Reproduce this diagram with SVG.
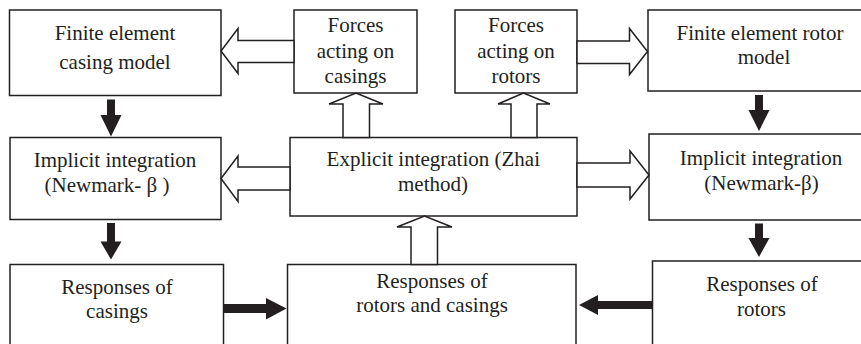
<svg xmlns="http://www.w3.org/2000/svg" width="861" height="344" viewBox="0 0 861 344">
<style>
.box{fill:#fff;stroke:#231f20;stroke-width:1.5}
.hol{fill:#fff;stroke:#231f20;stroke-width:1.5;stroke-linejoin:miter}
.sol{fill:#231f20;stroke:none}
text{font-family:'Liberation Serif','Times New Roman','DejaVu Serif',serif;font-size:21px;fill:#231f20;text-anchor:middle}
</style>
<rect width="861" height="344" fill="#fff"/>
<g font-family="'Liberation Serif', 'Times New Roman', serif">
<g id="n1"><rect class="box" x="9.5" y="10" width="211.5" height="85.5"/><text x="115" y="39.5">Finite element</text><text x="115" y="69">casing model</text></g>
<g id="n2"><rect class="box" x="294" y="10" width="123" height="83"/><text x="355.5" y="32">Forces</text><text x="355.5" y="57.5">acting on</text><text x="355.5" y="82.5">casings</text></g>
<g id="n3"><rect class="box" x="455" y="10" width="122" height="83"/><text x="516" y="32">Forces</text><text x="516" y="57.5">acting on</text><text x="516" y="82.5">rotors</text></g>
<g id="n4"><rect class="box" x="648" y="10" width="230" height="81"/><text x="760" y="39.5">Finite element rotor</text><text x="764" y="64">model</text></g>
<g id="n5"><rect class="box" x="10" y="137.5" width="211" height="82"/><text x="115" y="166.5">Implicit integration</text><text x="107" y="192" xml:space="preserve">(Newmark- β )</text></g>
<g id="n6"><rect class="box" x="290" y="137.5" width="287" height="78.5"/><text x="433.3" y="166">Explicit integration (Zhai</text><text x="433" y="191">method)</text></g>
<g id="n7"><rect class="box" x="649" y="134" width="230" height="86"/><text x="761" y="164.5">Implicit integration</text><text x="761.5" y="189.5">(Newmark-β)</text></g>
<g id="n8"><rect class="box" x="10" y="264.5" width="213.5" height="100"/><text x="117" y="294">Responses of</text><text x="117" y="318">casings</text></g>
<g id="n9"><rect class="box" x="287.5" y="264.5" width="288.5" height="100"/><text x="432" y="287.5">Responses of</text><text x="432" y="312">rotors and casings</text></g>
<g id="n10"><rect class="box" x="652.5" y="261" width="230" height="100"/><text x="762" y="291">Responses of</text><text x="761.5" y="316">rotors</text></g>
</g>
<g id="connectors">
<polygon class="hol" points="294,40.5 238,40.5 238,28.5 221,51 238,73.5 238,62.5 294,62.5"/>
<polygon class="hol" points="577,41 629.5,41 629.5,28.5 647.5,51.5 629.5,74.5 629.5,63.5 577,63.5"/>
<polygon class="hol" points="290,167 238,167 238,156 221,178.5 238,201.5 238,190 290,190"/>
<polygon class="hol" points="577,163 630,163 630,151 649,175 630,199 630,187 577,187"/>
<polygon class="hol" points="343,137.5 343,104 329,104 356,93 383,104 369.5,104 369.5,137.5"/>
<polygon class="hol" points="511,137.5 511,104 498,104 523.5,93 550,104 537,104 537,137.5"/>
<polygon class="hol" points="411,264.5 411,227 397,227 424.5,216 452,227 437.5,227 437.5,264.5"/>
<polygon class="sol" points="107,99.5 115,99.5 115,115 121.5,115 111,136.5 100.5,115 107,115"/>
<polygon class="sol" points="107,223 115,223 115,241.5 121.5,241.5 111,259.5 100.5,241.5 107,241.5"/>
<polygon class="sol" points="755,95 763,95 763,110 769.5,110 759,131 748.5,110 755,110"/>
<polygon class="sol" points="755,223.5 763,223.5 763,238 769.5,238 759,257 748.5,238 755,238"/>
<polygon class="sol" points="223.5,304 266,304 266,298 286.5,308.5 266,319.5 266,313 223.5,313"/>
<polygon class="sol" points="652.5,301 598,301 598,295 579,305 598,315 598,309 652.5,309"/>
</g>
</svg>
